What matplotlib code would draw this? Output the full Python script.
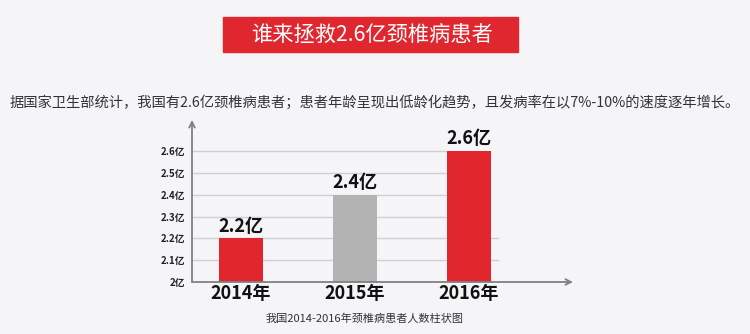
import matplotlib
matplotlib.use('Agg')
from matplotlib import pyplot as plt
from matplotlib.patches import Rectangle

plt.rcParams['font.family'] = ['Noto Sans CJK SC', 'DejaVu Sans']

title = '谁来拯救2.6亿颈椎病患者'
subtitle = '据国家卫生部统计，我国有2.6亿颈椎病患者；患者年龄呈现出低龄化趋势，且发病率在以7%-10%的速度逐年增长。'
caption = '我国2014-2016年颈椎病患者人数柱状图'

years = ['2014年', '2015年', '2016年']
patients = [2.2, 2.4, 2.6]   # 亿
bar_colors = ['#e1262d', '#b3b3b3', '#e1262d']
y_ticks = [2.0, 2.1, 2.2, 2.3, 2.4, 2.5, 2.6]
y_tick_labels = ['2亿', '2.1亿', '2.2亿', '2.3亿', '2.4亿', '2.5亿', '2.6亿']

W, H = 750, 334
bg = '#f5f5f7'
fig = plt.figure(figsize=(W / 100, H / 100), dpi=100, facecolor=bg)

# red title banner
fig.add_artist(Rectangle((223 / W, 1 - 52 / H), 295 / W, 35 / H,
                         transform=fig.transFigure, color='#e0262e', zorder=1))
fig.text(372 / W, 1 - 35 / H, title, color='white', fontsize=15.3,
         ha='center', va='center', zorder=2)
fig.text(375 / W, 1 - 102 / H, subtitle, color='#333333', fontsize=10.3,
         ha='center', va='center')

ax = fig.add_axes([192 / W, 52 / H, (573 - 192) / W, (282 - 120) / H])
ax.set_facecolor(bg)
x = list(range(len(years)))
ax.set_xlim(-0.43, 2.912)
ax.set_ylim(2.0, 2.742)

# grid lines, the upper ones stop at the last bar
for level in y_ticks[1:]:
    end = 2.255 if level <= 2.2 else 1.8
    ax.plot([-0.43, end], [level, level], color='#cfcfcf', lw=1, zorder=1)

bars = ax.bar(x, [v - 2.0 for v in patients], bottom=2.0, width=0.386,
              color=bar_colors, zorder=3)
for xi, v in zip(x, patients):
    ax.text(xi, v + 0.012, f'{v}亿', ha='center', va='bottom',
            fontsize=13, fontweight='bold', color='#111111')

for s in ax.spines.values():
    s.set_visible(False)
arrow = dict(arrowstyle='->', color='#808080', lw=1.3, shrinkA=0, shrinkB=0)
ax.annotate('', xy=(0, 1), xytext=(0, 0), xycoords='axes fraction',
            arrowprops=arrow)
ax.annotate('', xy=(1, 0), xytext=(0, 0), xycoords='axes fraction',
            arrowprops=arrow)

ax.set_yticks(y_ticks)
ax.set_yticklabels(y_tick_labels, fontsize=7, fontweight='bold', color='#222222')
ax.set_xticks(x)
ax.set_xticklabels(years, fontsize=13, fontweight='bold', color='#111111')
ax.tick_params(axis='y', length=0, pad=5)
ax.tick_params(axis='x', length=0, pad=1.5)

fig.text(365 / W, 1 - 319 / H, caption, color='#333333', fontsize=8,
         ha='center', va='center')

fig.savefig('out.png', dpi=100, facecolor=bg)
